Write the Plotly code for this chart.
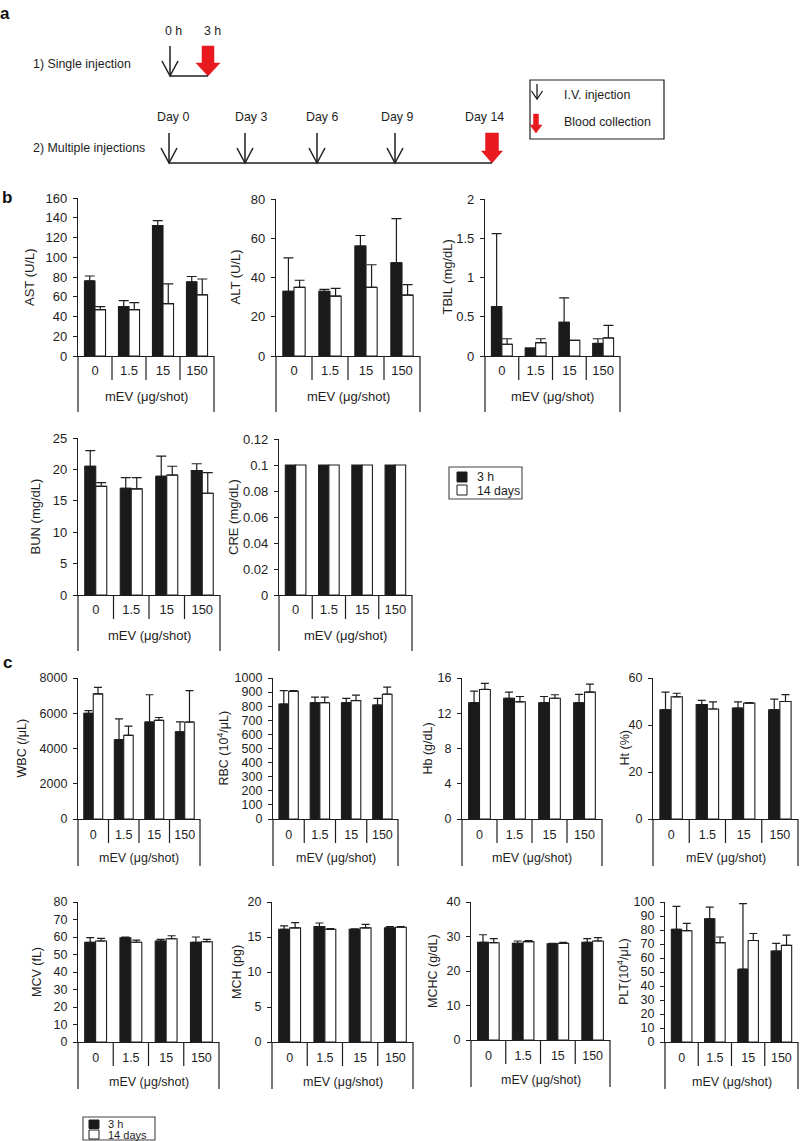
import plotly.graph_objects as go

W, H = 800, 1141
FONT = "Liberation Sans, Arial, sans-serif"
INK = "#1e1e1e"
RED = "#e8191f"

# ---------------- data ----------------
doses = ["0", "1.5", "15", "150"]
series_names = ["3 h", "14 days"]

ast_3h = [76, 50, 132, 75];        ast_3h_sd = [5, 6, 5, 5.5]
ast_14d = [47, 47, 53, 62];        ast_14d_sd = [3, 7, 20, 16]
alt_3h = [33, 33, 56, 47.5];       alt_3h_sd = [17, 1, 5.4, 22.5]
alt_14d = [35, 30.5, 35, 31];      alt_14d_sd = [3.6, 4, 11.5, 5.4]
tbil_3h = [0.63, 0.10, 0.43, 0.16]; tbil_3h_sd = [0.93, 0.0, 0.31, 0.06]
tbil_14d = [0.15, 0.17, 0.20, 0.23]; tbil_14d_sd = [0.07, 0.05, 0.0, 0.16]
bun_3h = [20.5, 17.0, 18.9, 19.8]; bun_3h_sd = [2.5, 1.7, 3.2, 1.1]
bun_14d = [17.3, 16.9, 19.1, 16.2]; bun_14d_sd = [0.6, 1.8, 1.4, 3.3]
cre_3h = [0.1, 0.1, 0.1, 0.1];     cre_3h_sd = [0, 0, 0, 0]
cre_14d = [0.1, 0.1, 0.1, 0.1];    cre_14d_sd = [0, 0, 0, 0]

wbc_3h = [6000, 4500, 5500, 4950]; wbc_3h_sd = [150, 1180, 1550, 560]
wbc_14d = [7100, 4750, 5600, 5500]; wbc_14d_sd = [370, 520, 160, 1780]
rbc_3h = [815, 825, 825, 808];     rbc_3h_sd = [95, 40, 30, 47]
rbc_14d = [905, 825, 840, 885];    rbc_14d_sd = [5, 40, 38, 50]
hb_3h = [13.2, 13.7, 13.2, 13.2];  hb_3h_sd = [1.3, 0.7, 0.7, 0.95]
hb_14d = [14.7, 13.3, 13.7, 14.4]; hb_14d_sd = [0.7, 0.6, 0.4, 0.9]
ht_3h = [46.5, 48.7, 47.2, 46.5];  ht_3h_sd = [7.5, 1.8, 2.6, 4.5]
ht_14d = [52, 46.8, 49.3, 50];     ht_14d_sd = [1.5, 3, 0.2, 2.9]
mcv_3h = [57, 59.5, 57.7, 57];     mcv_3h_sd = [2.6, 0.5, 0.9, 3]
mcv_14d = [57.7, 57, 59, 57.3];    mcv_14d_sd = [1.5, 1.2, 1.7, 1.3]
mch_3h = [16.1, 16.5, 16.1, 16.3]; mch_3h_sd = [0.5, 0.5, 0.05, 0.2]
mch_14d = [16.3, 16.1, 16.3, 16.4]; mch_14d_sd = [0.75, 0.1, 0.5, 0.1]
mchc_3h = [28.3, 28.0, 27.9, 28.3]; mchc_3h_sd = [2.2, 0.7, 0.1, 1.1]
mchc_14d = [28.2, 28.5, 28.0, 28.7]; mchc_14d_sd = [1.2, 0.3, 0.3, 1.0]
plt_3h = [80.5, 88, 52, 65];       plt_3h_sd = [16.4, 8.4, 46.8, 5.4]
plt_14d = [79.5, 71, 72.5, 69];    plt_14d_sd = [5.3, 4, 5, 7.3]

single_labels = ["0 h", "3 h"]
multi_labels = ["Day 0", "Day 3", "Day 6", "Day 9", "Day 14"]
key_labels = ["I.V. injection", "Blood collection"]

# ---------------- layout geometry (pixels) ----------------
# ytitle, x0, x1, ytop, yzero, ymax, dtick, title_x, strip, label_off, font, cap, xstandoff, data
charts = [
    ("AST (U/L)", 78, 214, 198, 356, 160, 20, 29, 56, 40, 13, 5, 2, (ast_3h, ast_3h_sd, ast_14d, ast_14d_sd)),
    ("ALT (U/L)", 276, 420, 199, 356, 80, 20, 235, 56, 40, 13, 5, 2, (alt_3h, alt_3h_sd, alt_14d, alt_14d_sd)),
    ("TBIL (mg/dL)", 485, 620, 199, 356, 2, 0.5, 447, 56, 40, 13, 5, 2, (tbil_3h, tbil_3h_sd, tbil_14d, tbil_14d_sd)),
    ("BUN (mg/dL)", 78, 220, 438, 595, 25, 5, 35, 56, 40, 13, 5, 2, (bun_3h, bun_3h_sd, bun_14d, bun_14d_sd)),
    ("CRE (mg/dL)", 279, 412, 439, 595, 0.12, 0.02, 233, 56, 40, 13, 5, 2, (cre_3h, cre_3h_sd, cre_14d, cre_14d_sd)),
    ("WBC (/μL)", 78, 200, 678, 819, 8000, 2000, 21, 47, 39, 12.5, 4, 4, (wbc_3h, wbc_3h_sd, wbc_14d, wbc_14d_sd)),
    ("RBC (10<sup>4</sup>/μL)", 273, 398, 678, 819, 1000, 100, 222, 47, 39, 12.5, 4, 4, (rbc_3h, rbc_3h_sd, rbc_14d, rbc_14d_sd)),
    ("Hb (g/dL)", 462, 602, 678, 819, 16, 4, 427, 47, 39, 12.5, 4, 4, (hb_3h, hb_3h_sd, hb_14d, hb_14d_sd)),
    ("Ht (%)", 653, 798, 678, 819, 60, 20, 624, 47, 39, 12.5, 4, 4, (ht_3h, ht_3h_sd, ht_14d, ht_14d_sd)),
    ("MCV (fL)", 78, 219, 902, 1042, 80, 10, 37, 47, 40, 12.5, 4, 4, (mcv_3h, mcv_3h_sd, mcv_14d, mcv_14d_sd)),
    ("MCH (pg)", 272, 413, 902, 1042, 20, 5, 237, 47, 40, 12.5, 4, 4, (mch_3h, mch_3h_sd, mch_14d, mch_14d_sd)),
    ("MCHC (g/dL)", 471, 610, 902, 1040, 40, 10, 433, 47, 40, 12.5, 4, 4, (mchc_3h, mchc_3h_sd, mchc_14d, mchc_14d_sd)),
    ("PLT(10<sup>4</sup>/μL)", 665, 798, 902, 1042, 100, 10, 623, 47, 40, 12.5, 4, 4, (plt_3h, plt_3h_sd, plt_14d, plt_14d_sd)),
]

PX = 14  # pixel overlay axis id
SEP = 24  # length of separators between dose categories


def sfx(k):
    return "" if k == 1 else str(k)


fig = go.Figure()
layout = dict(
    width=W, height=H,
    margin=dict(l=0, r=0, t=0, b=0, autoexpand=False),
    paper_bgcolor="white", plot_bgcolor="rgba(0,0,0,0)",
    font=dict(family=FONT, size=12.5, color=INK),
    barmode="group", bargap=0.38, bargroupgap=0,
    showlegend=False,
)
shapes = []
annotations = []
ref = dict(xref="x%d" % PX, yref="y%d" % PX)

for k, (ytitle, x0, x1, ytop, yz, ymax, dtick, tx, strip, loff, fs, cap, xso, d) in enumerate(charts, start=1):
    m3, s3, m14, s14 = d
    has_err = any(v > 0 for v in s3 + s14)
    for name, m, s, col in ((series_names[0], m3, s3, "#1a1a1a"), (series_names[1], m14, s14, "white")):
        fig.add_trace(go.Bar(
            x=doses, y=m, name=name,
            marker=dict(color=col, line=dict(color=INK, width=1.1)),
            error_y=dict(type="data", array=s, arrayminus=[0] * len(s), symmetric=False,
                         color=INK, thickness=1.2, width=cap, visible=has_err),
            xaxis="x" + sfx(k), yaxis="y" + sfx(k),
            hoverinfo="skip",
        ))
    layout["xaxis" + sfx(k)] = dict(
        domain=[x0 / W, x1 / W], anchor="y" + sfx(k), type="category",
        categoryorder="array", categoryarray=doses, range=[-0.5, len(doses) - 0.5],
        showline=True, linecolor=INK, linewidth=1.2, ticks="",
        ticklabelstandoff=xso, showgrid=False, zeroline=False, fixedrange=True,
        tickfont=dict(size=fs, color=INK),
    )
    layout["yaxis" + sfx(k)] = dict(
        domain=[1 - yz / H, 1 - ytop / H], anchor="x" + sfx(k),
        range=[0, ymax], tickmode="linear", tick0=0, dtick=dtick,
        showline=True, linecolor=INK, linewidth=1.2,
        ticks="outside", ticklen=4, tickwidth=1.2, tickcolor=INK,
        ticklabelstandoff=3, showgrid=False, zeroline=False, fixedrange=True,
        tickfont=dict(size=fs, color=INK),
    )
    n = len(doses)
    for i in range(n + 1):
        xd = i / n
        length = strip if i in (0, n) else SEP
        shapes.append(dict(type="line", xref="x" + sfx(k) + " domain", yref="y%d" % PX,
                           x0=xd, x1=xd, y0=yz, y1=yz + length,
                           line=dict(color=INK, width=1.2)))
    annotations.append(dict(text="mEV (μg/shot)", xref="x" + sfx(k) + " domain", yref="y%d" % PX,
                            x=0.5, y=yz + loff, showarrow=False,
                            xanchor="center", yanchor="middle", font=dict(size=fs)))
    annotations.append(dict(text=ytitle, x=tx, y=(ytop + yz) / 2,
                            textangle=-90, showarrow=False, xanchor="center", yanchor="middle",
                            font=dict(size=fs), **ref))

# pixel overlay axis for the schematic, keys and free texts
layout["xaxis%d" % PX] = dict(domain=[0, 1], range=[0, W], visible=False, fixedrange=True, anchor="y%d" % PX)
layout["yaxis%d" % PX] = dict(domain=[0, 1], range=[H, 0], visible=False, fixedrange=True, anchor="x%d" % PX)

# panel letters
for letter, lx, ly in (("a", 5, 13), ("b", 7, 197), ("c", 7, 662)):
    annotations.append(dict(text="<b>%s</b>" % letter, x=lx, y=ly, showarrow=False,
                            xanchor="center", yanchor="middle", font=dict(size=17, color="#111"), **ref))


def black_arrow(x, yt, yb, hw=8, hh=15, w=1.5):
    shapes.append(dict(type="line", x0=x, x1=x, y0=yt, y1=yb, line=dict(color=INK, width=w), **ref))
    shapes.append(dict(type="path", path=f"M {x-hw},{yb-hh} L {x},{yb} L {x+hw},{yb-hh}",
                       line=dict(color=INK, width=w), **ref))


def red_arrow(x, yt, yh, ytip, sw, hw):
    shapes.append(dict(type="path",
                       path=f"M {x-sw},{yt} L {x+sw},{yt} L {x+sw},{yh} L {x+hw},{yh} L {x},{ytip} L {x-hw},{yh} L {x-sw},{yh} Z",
                       fillcolor=RED, line=dict(color=RED, width=0.5), **ref))


def text(t, x, y, anchor="center", size=12.4):
    annotations.append(dict(text=t, x=x, y=y, showarrow=False, xanchor=anchor, yanchor="middle",
                            font=dict(size=size), **ref))


# 1) single injection
text("1) Single injection", 31, 64, "left")
black_arrow(170, 46, 76)
red_arrow(208, 46, 63, 76, 6, 12)
shapes.append(dict(type="line", x0=170, x1=208, y0=76, y1=76, line=dict(color=INK, width=1.5), **ref))
for lab, lx in zip(single_labels, [173, 212]):
    text(lab, lx, 31)

# 2) multiple injections
text("2) Multiple injections", 31, 148, "left")
for ax_ in [169, 245, 317, 395]:
    black_arrow(ax_, 133, 163)
red_arrow(492, 133, 151, 163, 6.5, 10.5)
shapes.append(dict(type="line", x0=169, x1=492, y0=163, y1=163, line=dict(color=INK, width=1.5), **ref))
for lab, lx in zip(multi_labels, [173, 251, 322, 397, 484]):
    text(lab, lx, 117)

# schematic key box
shapes.append(dict(type="rect", x0=530, x1=664, y0=80, y1=139, line=dict(color=INK, width=1.2), **ref))
black_arrow(537, 84, 99, hw=5.5, hh=8, w=1.3)
red_arrow(536, 114, 125, 133, 2.5, 6)
text(key_labels[0], 562, 95, "left")
text(key_labels[1], 562, 122, "left")


# bar legends (3 h / 14 days)
def bar_key(bx0, bx1, by0, by1, sq_x, sq_rows, txt_x, txt_rows, size):
    shapes.append(dict(type="rect", x0=bx0, x1=bx1, y0=by0, y1=by1,
                       line=dict(color="#444", width=1.1), fillcolor="white", **ref))
    for (r0, r1), col in zip(sq_rows, ["#1a1a1a", "white"]):
        shapes.append(dict(type="rect", x0=sq_x[0], x1=sq_x[1], y0=r0, y1=r1,
                           line=dict(color=INK, width=1), fillcolor=col, **ref))
    for name, ty in zip(series_names, txt_rows):
        text(name, txt_x, ty, "left", size)


bar_key(449, 522, 467, 499, (457, 467), [(472, 482), (485, 495)], 475, [476.5, 490.5], 12.3)
bar_key(83, 155, 1117, 1140, (89, 99), [(1120, 1128.5), (1130, 1139)], 106, [1124, 1135], 11)

layout["shapes"] = shapes
layout["annotations"] = annotations
fig.update_layout(**layout)
fig.write_html("out.html", config={"displayModeBar": False},
               post_script="document.body.style.margin='0px';")
